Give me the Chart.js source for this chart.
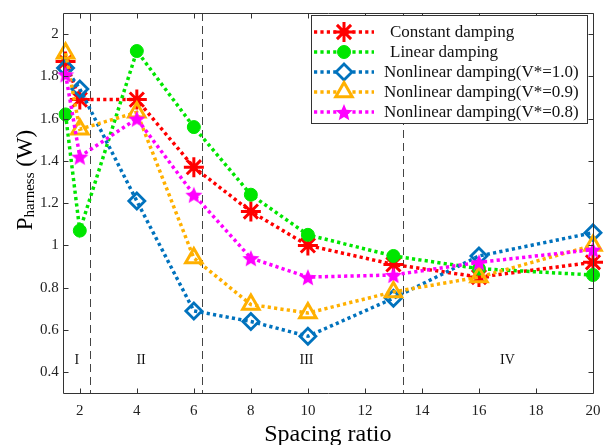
<!DOCTYPE html>
<html>
<head>
<meta charset="utf-8">
<script src="https://cdn.jsdelivr.net/npm/chart.js@4/dist/chart.umd.min.js"></script>
<style>
html,body{margin:0;padding:0;background:#fff;}
#wrap{width:614px;height:445px;position:relative;}
</style>
</head>
<body>
<div id="wrap"><canvas id="c" width="614" height="445"></canvas></div>
<script>
// ---- data ----
const spacing = [1.5, 2, 4, 6, 8, 10, 13, 16, 20];
const constantDamping = [1.87, 1.69, 1.69, 1.37, 1.16, 1.00, 0.91, 0.85, 0.92];
const linearDamping   = [1.62, 1.07, 1.92, 1.56, 1.24, 1.05, 0.95, 0.89, 0.86];
const nonlinear10     = [1.84, 1.74, 1.21, 0.69, 0.64, 0.57, 0.75, 0.95, 1.06];
const nonlinear09     = [1.91, 1.55, 1.63, 0.94, 0.72, 0.68, 0.78, 0.85, 1.00];
const nonlinear08     = [1.81, 1.42, 1.60, 1.24, 0.94, 0.85, 0.86, 0.92, 0.98];
const seriesNames = ['Constant damping','Linear damping','Nonlinear damping(V*=1.0)','Nonlinear damping(V*=0.9)','Nonlinear damping(V*=0.8)'];
const xTicks = [2, 4, 6, 8, 10, 12, 14, 16, 18, 20];
const yTicks = [0.4, 0.6, 0.8, 1.0, 1.2, 1.4, 1.6, 1.8, 2.0];
const regionBounds = [2.35, 6.3, 13.33];
const regionLabels = ['I', 'II', 'III', 'IV'];
const regionLabelX = [1.9, 4.15, 9.95, 17.0];

const SERIF = '"Liberation Serif","DejaVu Serif",serif';

function starImage(color, r) {
  const s = Math.ceil(r * 2 + 4);
  const cv = document.createElement('canvas');
  cv.width = s; cv.height = s;
  const g = cv.getContext('2d');
  g.fillStyle = color;
  g.beginPath();
  for (let i = 0; i < 10; i++) {
    const rr = i % 2 === 0 ? r : r * 0.45;
    const a = -Math.PI / 2 + i * Math.PI / 5;
    const px = s / 2 + rr * Math.cos(a), py = s / 2 + 1 + rr * Math.sin(a);
    if (i === 0) g.moveTo(px, py); else g.lineTo(px, py);
  }
  g.closePath();
  g.fill();
  return cv;
}
const magStar = starImage('#FF00FF', 9);

const colors = ['#FF0000', '#00E600', '#0072BD', '#FFB000', '#FF00FF'];
const values = [constantDamping, linearDamping, nonlinear10, nonlinear09, nonlinear08];
const styles = [
  {pointStyle: 'star', pointRadius: 10, pointBorderWidth: 3, fill: '#FF0000'},
  {pointStyle: 'circle', pointRadius: 6.5, pointBorderWidth: 1, fill: '#00E600'},
  {pointStyle: 'rectRot', pointRadius: 8, pointBorderWidth: 2.8, fill: 'rgba(255,255,255,0)'},
  {pointStyle: 'triangle', pointRadius: 9.5, pointBorderWidth: 3, fill: 'rgba(255,255,255,0)'},
  {pointStyle: magStar, pointRadius: 9, pointBorderWidth: 0, fill: '#FF00FF'}
];

const datasets = values.map((vals, i) => ({
  label: seriesNames[i],
  data: spacing.map((x, k) => ({x: x, y: vals[k]})),
  borderColor: colors[i],
  backgroundColor: styles[i].fill,
  pointBackgroundColor: styles[i].fill,
  pointBorderColor: colors[i],
  pointStyle: styles[i].pointStyle,
  pointRadius: styles[i].pointRadius,
  pointBorderWidth: styles[i].pointBorderWidth,
  borderWidth: 3.5,
  borderDash: [3.2, 3.2],
  borderCapStyle: 'butt',
  tension: 0,
  clip: false,
  order: 5 - i
}));

const framePlugin = {
  id: 'frame',
  beforeDatasetsDraw(chart) {
    const {ctx, chartArea: a, scales: {x, y}} = chart;
    ctx.save();
    ctx.strokeStyle = '#444';
    ctx.lineWidth = 1;
    ctx.setLineDash([8, 5]);
    regionBounds.forEach(v => {
      const px = Math.round(x.getPixelForValue(v)) + 0.5;
      ctx.beginPath(); ctx.moveTo(px, a.top); ctx.lineTo(px, a.bottom); ctx.stroke();
    });
    ctx.setLineDash([]);
    ctx.fillStyle = '#111';
    ctx.font = '14px ' + SERIF;
    ctx.textAlign = 'center';
    ctx.textBaseline = 'middle';
    regionLabels.forEach((t, i) => {
      ctx.fillText(t, x.getPixelForValue(regionLabelX[i]), y.getPixelForValue(0.455));
    });
    ctx.restore();
  },
  afterDraw(chart) {
    const {ctx, chartArea: a, scales: {x, y}} = chart;
    ctx.save();
    ctx.strokeStyle = '#333';
    ctx.lineWidth = 1;
    const L = Math.round(a.left) + 0.5, R = Math.round(a.right) + 0.5;
    const T = Math.round(a.top) + 0.5, B = Math.round(a.bottom) + 0.5;
    ctx.beginPath();
    ctx.moveTo(L, T); ctx.lineTo(R, T); ctx.lineTo(R, B); ctx.lineTo(L, B); ctx.closePath();
    ctx.stroke();
    const tl = 5;
    xTicks.forEach(v => {
      const px = Math.round(x.getPixelForValue(v)) + 0.5;
      ctx.beginPath();
      ctx.moveTo(px, B); ctx.lineTo(px, B - tl);
      ctx.moveTo(px, T); ctx.lineTo(px, T + tl);
      ctx.stroke();
    });
    yTicks.forEach(v => {
      const py = Math.round(y.getPixelForValue(v)) + 0.5;
      ctx.beginPath();
      ctx.moveTo(L, py); ctx.lineTo(L + tl, py);
      ctx.moveTo(R, py); ctx.lineTo(R - tl, py);
      ctx.stroke();
    });

    // axis titles
    ctx.fillStyle = '#000';
    ctx.font = '24px ' + SERIF;
    ctx.textAlign = 'center';
    ctx.textBaseline = 'alphabetic';
    ctx.fillText('Spacing ratio', (a.left + a.right) / 2, 441);

    ctx.save();
    ctx.translate(32, 180);
    ctx.rotate(-Math.PI / 2);
    ctx.textAlign = 'left';
    const f1 = '23px ' + SERIF, f2 = '15px ' + SERIF;
    ctx.font = f1; const w1 = ctx.measureText('P').width;
    ctx.font = f2; const w2 = ctx.measureText('harness').width;
    ctx.font = f1; const w3 = ctx.measureText(' (W)').width;
    let sx = -(w1 + w2 + w3) / 2;
    ctx.font = f1; ctx.fillText('P', sx, 0); sx += w1;
    ctx.font = f2; ctx.fillText('harness', sx, 2); sx += w2;
    ctx.font = f1; ctx.fillText(' (W)', sx, 0);
    ctx.restore();

    // legend
    const lx = 311, ly = 15, lw = 276, lh = 108;
    ctx.fillStyle = '#fff';
    ctx.fillRect(lx, ly, lw, lh);
    ctx.strokeStyle = '#333';
    ctx.strokeRect(lx + 0.5, ly + 0.5, lw, lh);
    const rows = [32, 52, 72, 92, 112];
    const textX = [390, 390, 384, 384, 384];
    chart.data.datasets.forEach((ds, i) => {
      const cy = rows[i];
      ctx.save();
      ctx.strokeStyle = ds.borderColor;
      ctx.lineWidth = 3.5;
      ctx.setLineDash([3.2, 3.2]);
      ctx.beginPath(); ctx.moveTo(314, cy); ctx.lineTo(374, cy); ctx.stroke();
      ctx.setLineDash([]);
      ctx.fillStyle = ds.pointBackgroundColor;
      ctx.strokeStyle = ds.pointBorderColor;
      ctx.lineWidth = ds.pointBorderWidth;
      if (ds.pointStyle === magStar) {
        ctx.drawImage(magStar, 344 - magStar.width / 2, cy - magStar.height / 2);
      } else {
        if (ds.pointStyle === 'rectRot' || ds.pointStyle === 'triangle') {
          ctx.fillStyle = '#fff';
        }
        Chart.helpers.drawPoint(ctx, {pointStyle: ds.pointStyle, radius: ds.pointRadius, borderWidth: ds.pointBorderWidth, rotation: 0}, 344, cy);
      }
      ctx.restore();
      ctx.fillStyle = '#111';
      ctx.font = '17px ' + SERIF;
      ctx.textAlign = 'left';
      ctx.textBaseline = 'middle';
      ctx.fillText(ds.label, textX[i], cy + 1);
    });
    ctx.restore();
  }
};

new Chart(document.getElementById('c'), {
  type: 'line',
  data: {datasets: datasets},
  options: {
    responsive: false,
    animation: false,
    devicePixelRatio: 1,
    layout: {padding: {left: 0, right: 21, top: 7, bottom: 0}},
    plugins: {legend: {display: false}, tooltip: {enabled: false}},
    scales: {
      x: {
        type: 'linear',
        min: 1.4, max: 20,
        grid: {display: false, drawTicks: false},
        border: {display: false},
        afterBuildTicks: s => { s.ticks = xTicks.map(v => ({value: v})); },
        afterFit: s => { s.height = 445 - 393.3; },
        ticks: {font: {family: SERIF, size: 15}, color: '#222', padding: 9, maxRotation: 0,
                callback: v => String(v)}
      },
      y: {
        type: 'linear',
        min: 0.3, max: 2.1,
        grid: {display: false, drawTicks: false},
        border: {display: false},
        afterBuildTicks: s => { s.ticks = yTicks.map(v => ({value: v})); },
        afterFit: s => { s.width = 62.7; },
        ticks: {font: {family: SERIF, size: 15}, color: '#222', padding: 4,
                callback: v => String(Math.round(v * 10) / 10)}
      }
    }
  },
  plugins: [framePlugin]
});
</script>
</body>
</html>
